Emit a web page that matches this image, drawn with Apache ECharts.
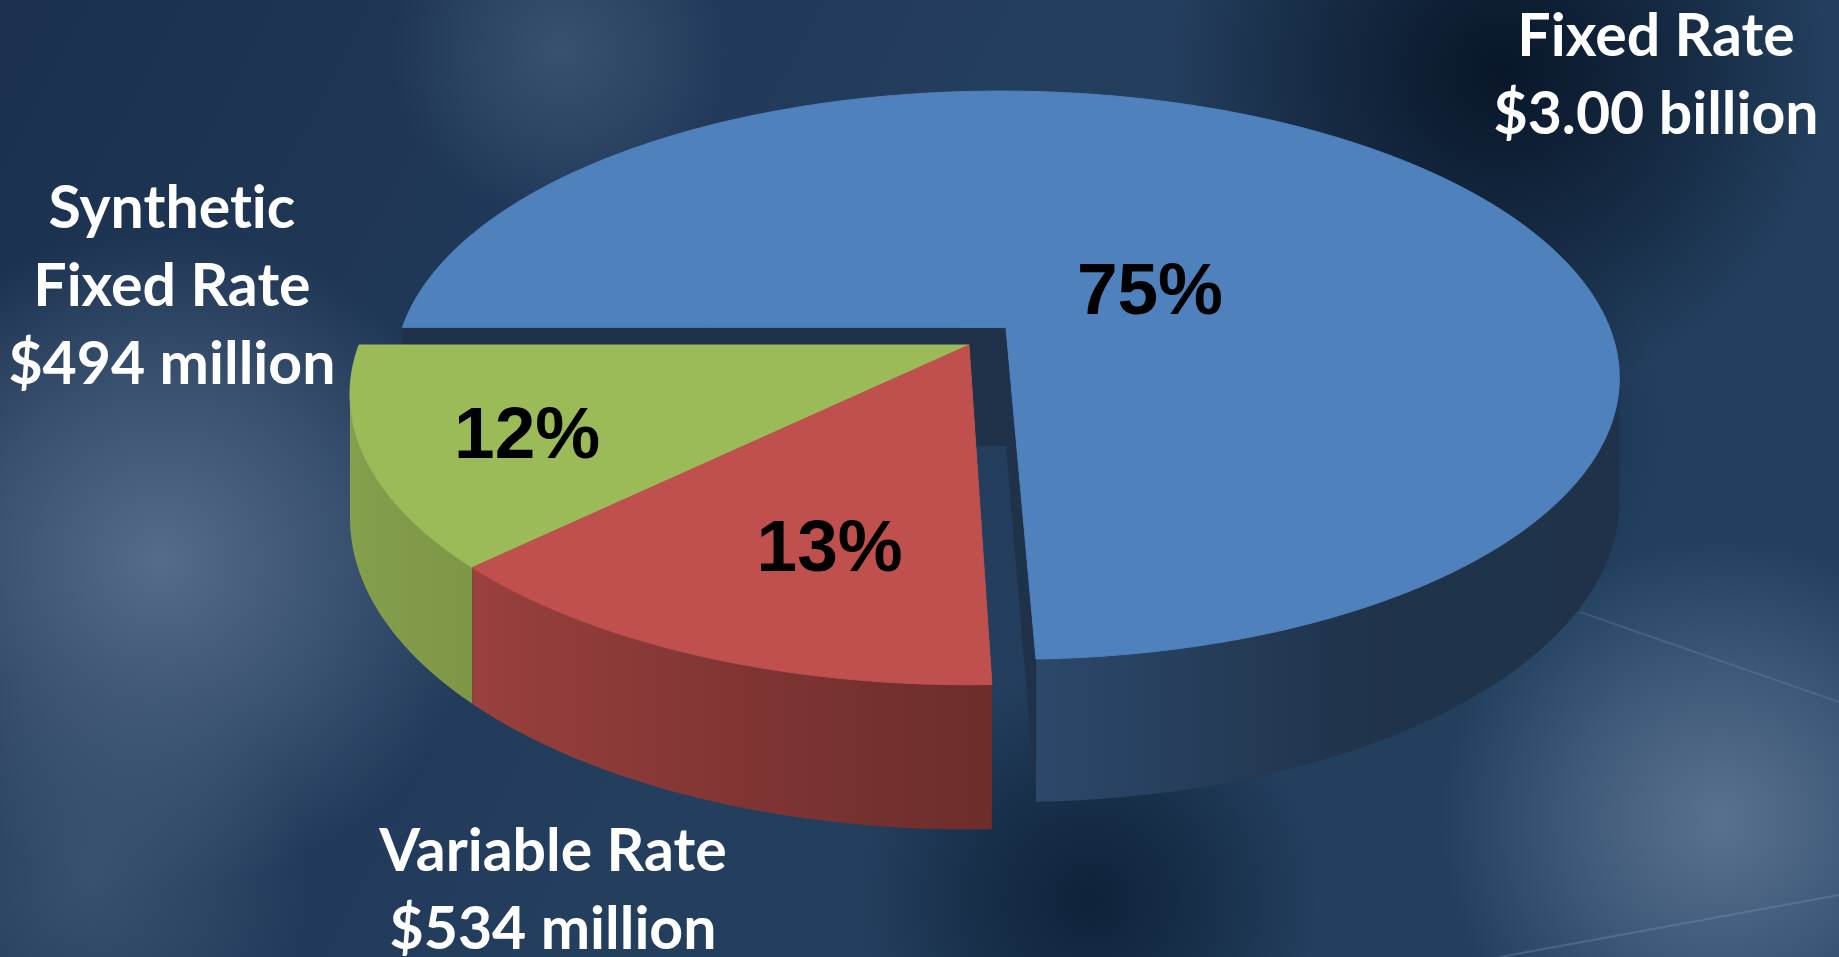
<!DOCTYPE html>
<html><head><meta charset="utf-8">
<script src="https://cdn.jsdelivr.net/npm/echarts@6/dist/echarts.min.js"></script>
<style>html,body{margin:0;padding:0;background:#223b5a;overflow:hidden}#c{width:1839px;height:957px}</style>
</head><body><div id="c"></div>
<script>
// ---- data ----
const CATEGORIES = ['Fixed Rate', 'Variable Rate', 'Synthetic\nFixed Rate'];
const AMOUNT_LABELS = ['$3.00 billion', '$534 million', '$494 million'];
const VALUES = [3004, 534, 494];           // $ millions
const COLORS = ['#4F81BD', '#C0504D', '#9BBB59'];
const EXPLODE = [0.088, 0, 0];

// ---- layout / style config ----
const W = 1839, H = 957;
const VIEW = {cx: 969, cy: 345, A: 282, B: 610, k: 0.17, D: 120, startAngle: 180};
const PCT_LABEL_LAYOUT = [{r: 0.286, shift: -15.2}, {r: 0.665, shift: 4.2}, {r: 0.748, shift: 1.0}];
const PCT_TEXT_DY = 6;
const OUTER_LABEL_POS = [[0.9005, 0.0789], [0.3007, 0.931], [0.0935, 0.3000]];
const CUT_FACTOR = 0.39;
const SHADE_PTS = [[-180, 0.88], [-170, 0.865], [-136, 0.81], [-88, 0.56], [-62, 0.40], [0, 0.38], [180, 0.38]];

const TOTAL = VALUES.reduce((a, b) => a + b, 0);
let acc = VIEW.startAngle;
const SLICES = VALUES.map(v => { const sw = v / TOTAL * 360; const a1 = acc, a2 = acc - sw; acc = a2; return {a1, a2, mid: (a1 + a2) / 2}; });
const ORDER = SLICES.map((s, i) => i).sort((a, b) => Math.sin(SLICES[b].mid * Math.PI / 180) - Math.sin(SLICES[a].mid * Math.PI / 180));

const rad = d => d * Math.PI / 180;
function proj(u, v) { const den = 1 + VIEW.k * v; return [VIEW.cx + VIEW.B * u / den, VIEW.cy - VIEW.A * v / den]; }
function projDown(u, v) { const p = proj(u, v); p[1] += VIEW.D / (1 + VIEW.k * v); return p; }
function hexToRgb(h) { h = h.replace('#', ''); return [0, 2, 4].map(i => parseInt(h.slice(i, i + 2), 16)); }
function shade(hex, f) { return 'rgb(' + hexToRgb(hex).map(x => Math.round(Math.min(255, x * f))).join(',') + ')'; }
function wallFactor(th) {
  const t = (((th + 180) % 360) + 360) % 360 - 180;
  for (let j = 0; j < SHADE_PTS.length - 1; j++) {
    const [a, fa] = SHADE_PTS[j], [b, fb] = SHADE_PTS[j + 1];
    if (t >= a && t <= b) return fa + (fb - fa) * (t - a) / (b - a);
  }
  return 0.38;
}
// avoid the font's "ti" ligature so glyphs look like the original typeface
const noLig = s => s.replace(/ti/g, 't\u200Ci');

function renderItem(params, api) {
  const i = params.dataIndex;
  const s = SLICES[i], color = COLORS[i], e = EXPLODE[i];
  const m = rad(s.mid);
  const cu = e * Math.cos(m), cv = e * Math.sin(m);
  const base = ORDER.indexOf(i) * 10;
  const children = [];
  const n = Math.max(2, Math.ceil((s.a1 - s.a2) / 0.5));
  const ths = [];
  for (let j = 0; j <= n; j++) ths.push(s.a1 - (s.a1 - s.a2) * j / n);
  const onRim = th => [cu + Math.cos(rad(th)), cv + Math.sin(rad(th))];
  const camV = -1 / VIEW.k;
  // outer wall (front-facing part only)
  const vis = ths.filter(th => (-cu) * Math.cos(rad(th)) + (camV - cv) * Math.sin(rad(th)) > 1);
  if (vis.length >= 2) {
    const top = vis.map(th => { const q = onRim(th); return proj(q[0], q[1]); });
    const bot = vis.map(th => { const q = onRim(th); return projDown(q[0], q[1]); }).reverse();
    const xs = top.map(p => p[0]);
    const x0 = Math.min(...xs), x1 = Math.max(...xs);
    const stops = [];
    vis.forEach((th, j) => {
      if (j % 4 === 0 || j === vis.length - 1) stops.push({offset: (top[j][0] - x0) / ((x1 - x0) || 1), color: shade(color, wallFactor(th))});
    });
    stops.sort((a, b) => a.offset - b.offset);
    children.push({type: 'polygon', z2: base + 1, shape: {points: top.concat(bot)},
      style: {fill: {type: 'linear', x: x0, y: 0, x2: x1, y2: 0, global: true, colorStops: stops}}});
  }
  // radial cut faces that face the viewer
  [[s.a1, 1], [s.a2, -1]].forEach(([a, sg]) => {
    const ca = Math.cos(rad(a)), sa = Math.sin(rad(a));
    const nx = -sg * sa, ny = sg * ca;
    if ((-cu) * nx + (camV - cv) * ny > 0) {
      const q = [cu + ca, cv + sa];
      children.push({type: 'polygon', z2: base + 2,
        shape: {points: [proj(cu, cv), proj(q[0], q[1]), projDown(q[0], q[1]), projDown(cu, cv)]},
        style: {fill: shade(color, CUT_FACTOR)}});
    }
  });
  // top face
  const topPts = [proj(cu, cv)].concat(ths.map(th => { const q = onRim(th); return proj(q[0], q[1]); }));
  children.push({type: 'polygon', z2: base + 5, shape: {points: topPts}, style: {fill: color, stroke: color, lineWidth: 1}});
  // percent label
  const L = PCT_LABEL_LAYOUT[i];
  const la = rad(s.mid + L.shift);
  const lp = proj(cu + L.r * Math.cos(la), cv + L.r * Math.sin(la));
  const pct = Math.round(api.value(0) / TOTAL * 100) + '%';
  children.push({type: 'text', z2: 100, style: {text: pct, x: lp[0], y: lp[1] + PCT_TEXT_DY, fill: '#000',
    font: 'bold 73px "Liberation Sans", Arial, sans-serif', align: 'center', verticalAlign: 'middle'}});
  return {type: 'group', children};
}

function glow(x, y, rx, ry, rgb, a) {
  return {type: 'ellipse', silent: true, z: -10, shape: {cx: x, cy: y, rx: rx, ry: ry},
    style: {fill: {type: 'radial', x: 0.5, y: 0.5, r: 0.5, colorStops: [
      {offset: 0, color: 'rgba(' + rgb + ',' + a + ')'},
      {offset: 0.55, color: 'rgba(' + rgb + ',' + (a * 0.5) + ')'},
      {offset: 1, color: 'rgba(' + rgb + ',0)'}]}}};
}

const graphics = [
  {type: 'rect', silent: true, z: -20, shape: {x: 0, y: 0, width: W, height: H},
    style: {fill: {type: 'linear', x: 0, y: 0, x2: 1, y2: 1, colorStops: [
      {offset: 0, color: '#1b304f'}, {offset: 0.45, color: '#243e5d'}, {offset: 1, color: '#22405f'}]}}},
  glow(1500, 70, 800, 330, '7,20,38', 0.95),
  glow(560, 50, 330, 170, '72,98,128', 0.6),
  glow(160, 560, 380, 330, '98,122,152', 0.8),
  glow(90, 880, 330, 220, '72,98,128', 0.6),
  glow(1720, 820, 460, 280, '98,122,152', 0.85),
  glow(1090, 900, 360, 230, '6,22,42', 0.7),
  glow(1450, 430, 300, 220, '10,26,48', 0.5),
  {type: 'line', silent: true, z: -5, shape: {x1: 1500, y1: 957, x2: 1839, y2: 895},
    style: {stroke: 'rgba(130,160,200,0.3)', lineWidth: 2}},
  {type: 'line', silent: true, z: -5, shape: {x1: 1580, y1: 612, x2: 1839, y2: 702},
    style: {stroke: 'rgba(130,160,200,0.22)', lineWidth: 2}}
];
CATEGORIES.forEach((c, i) => {
  graphics.push({type: 'text', z: 10, style: {
    text: noLig(c + '\n' + AMOUNT_LABELS[i]), x: OUTER_LABEL_POS[i][0] * W, y: OUTER_LABEL_POS[i][1] * H,
    fill: '#ffffff', font: 'bold 59px Lato, "Open Sans", sans-serif', lineHeight: 78,
    align: 'center', verticalAlign: 'middle'}});
});

const chart = echarts.init(document.getElementById('c'), null, {renderer: 'canvas'});
chart.setOption({
  animation: false,
  backgroundColor: '#223b5a',
  graphic: graphics,
  series: [{
    type: 'custom', coordinateSystem: 'none', renderItem: renderItem,
    data: VALUES.map((v, i) => ({value: [v, i], name: CATEGORIES[i]}))
  }]
});
</script>
</body></html>
